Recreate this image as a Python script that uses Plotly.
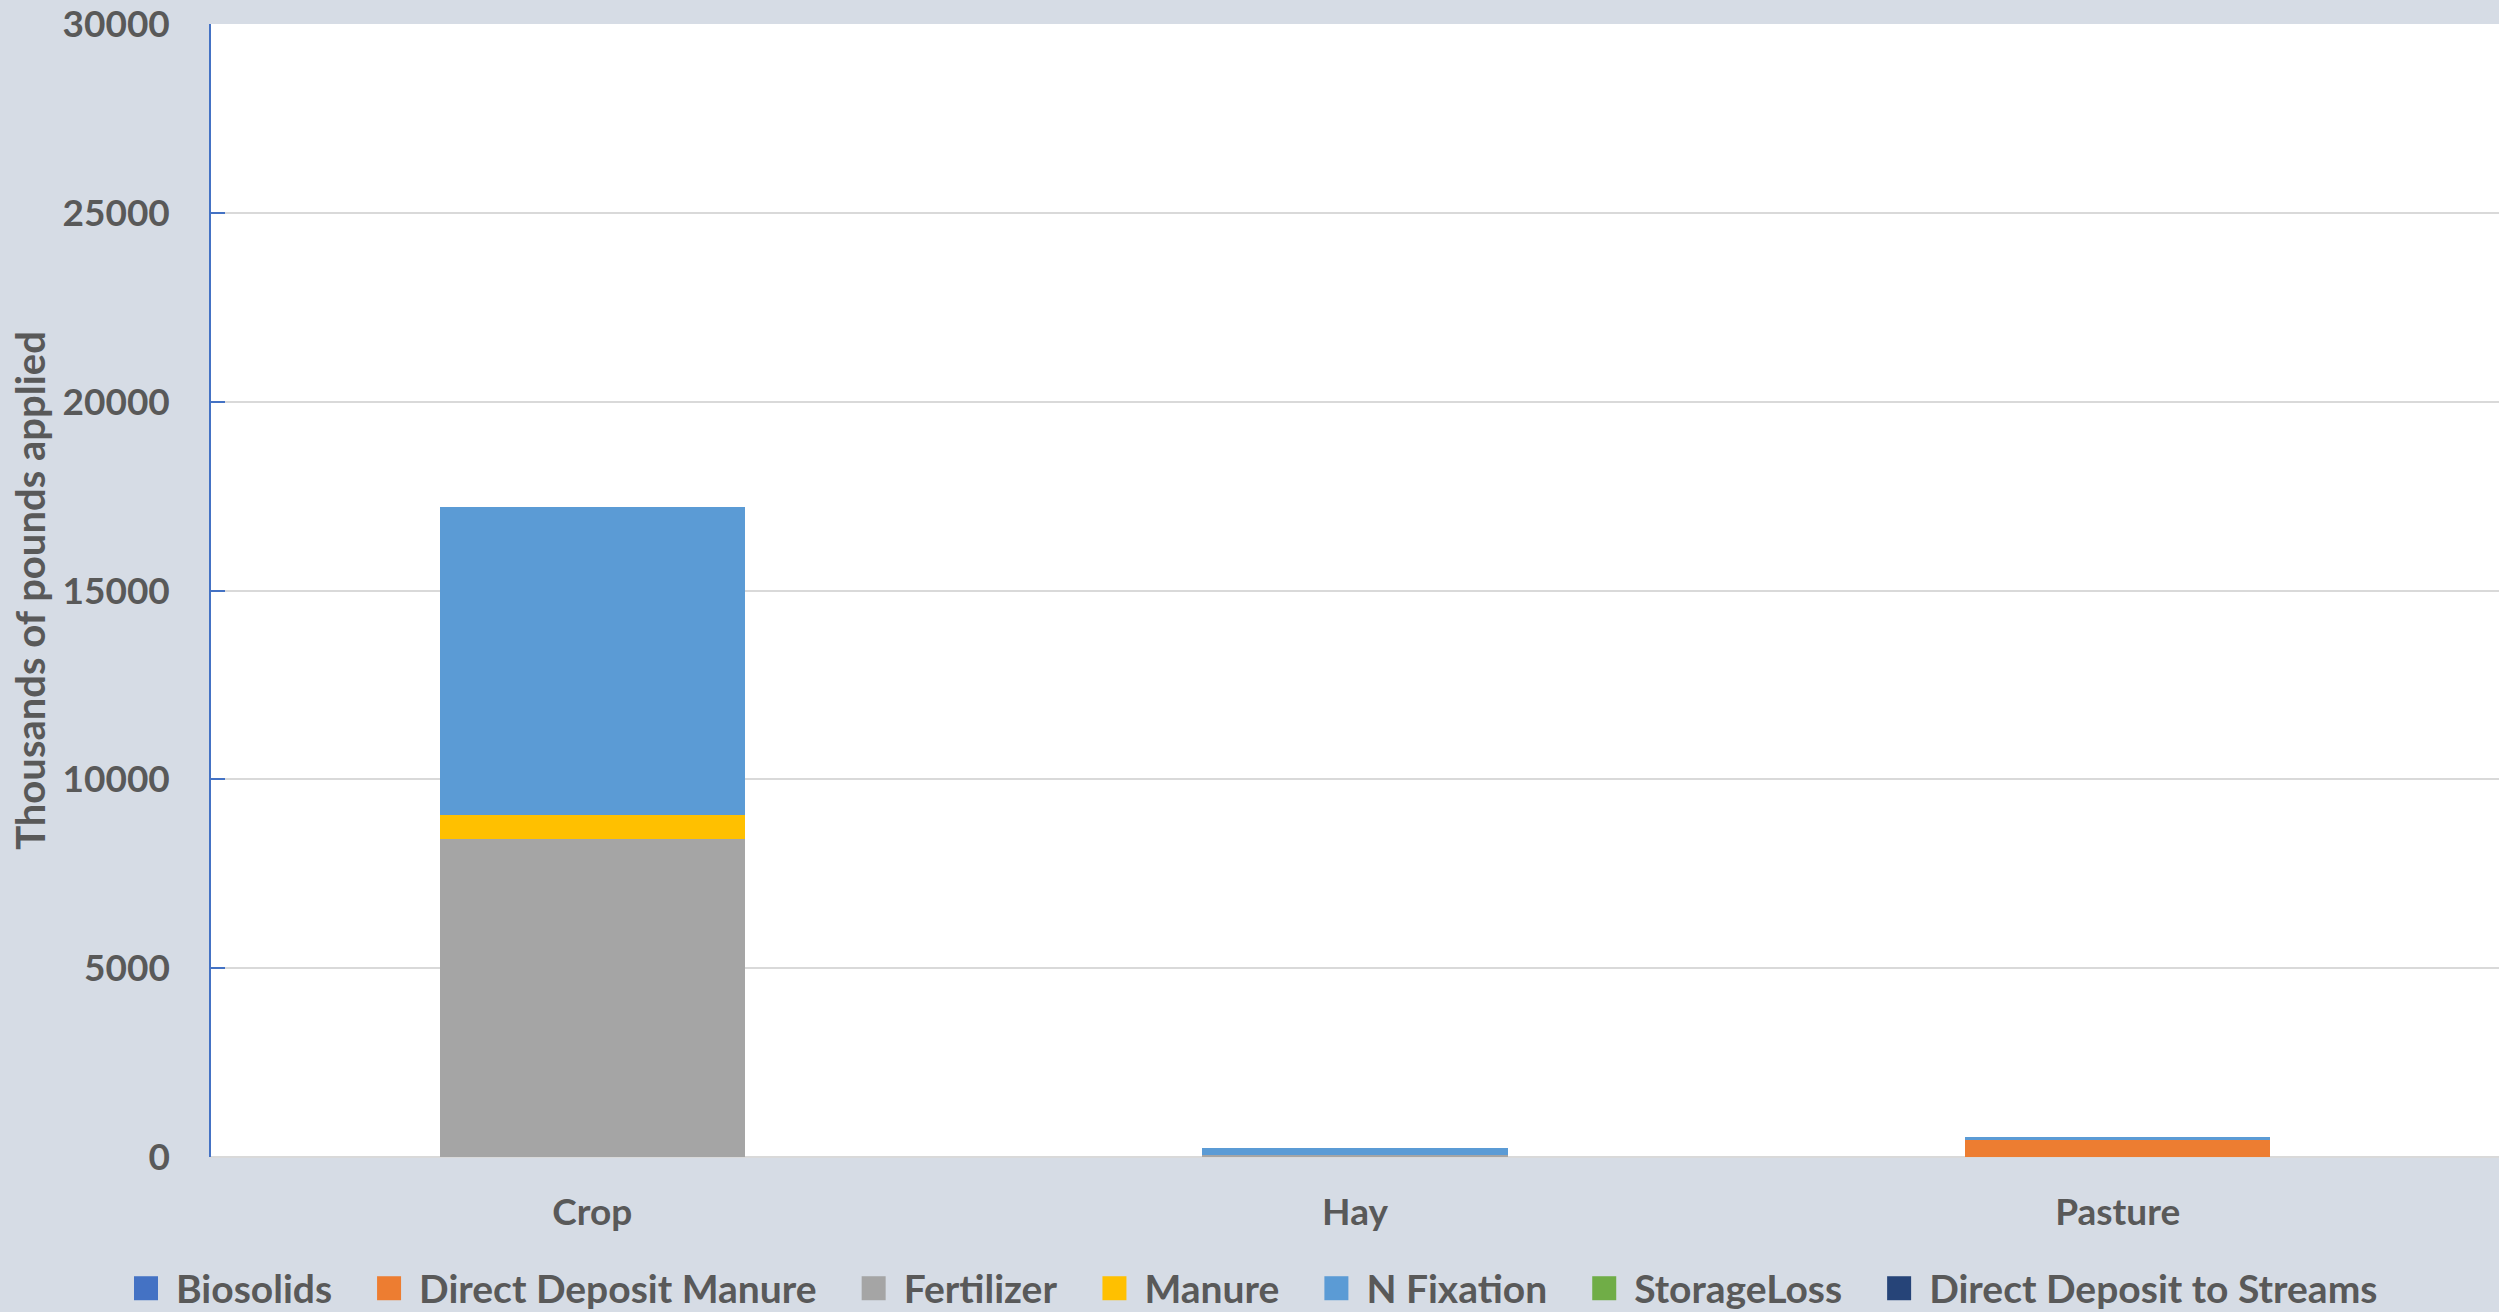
import plotly.graph_objects as go

# Land uses on the x axis
categories = ["Crop", "Hay", "Pasture"]

# Nitrogen sources, thousands of pounds applied per land use
biosolids = [0, 0, 0]
direct_deposit_manure = [0, 0, 460]
fertilizer = [8420, 50, 0]
manure = [630, 0, 0]
n_fixation = [8160, 180, 70]
storage_loss = [0, 0, 0]
direct_deposit_streams = [0, 0, 0]

y_ticks = [0, 5000, 10000, 15000, 20000, 25000, 30000]

series = [
    ("Biosolids", biosolids, "#4472C4"),
    ("Direct Deposit Manure", direct_deposit_manure, "#ED7D31"),
    ("Fertilizer", fertilizer, "#A5A5A5"),
    ("Manure", manure, "#FFC000"),
    ("N Fixation", n_fixation, "#5B9BD5"),
    ("StorageLoss", storage_loss, "#70AD47"),
    ("Direct Deposit to Streams", direct_deposit_streams, "#264478"),
]

FAMILY = "Lato, 'Open Sans', sans-serif"
FONT = dict(family=FAMILY, size=37, color="#595959", weight="bold")
LEGEND_FONT = dict(family=FAMILY, size=39, color="#595959", weight="bold")
TITLE_FONT = dict(family=FAMILY, size=40, color="#595959", weight="bold")
BG = "#D6DCE5"

fig = go.Figure()
for name, values, color in series:
    fig.add_trace(go.Bar(
        name=name,
        x=categories,
        y=values,
        marker=dict(color=color, line=dict(width=0)),
    ))

fig.update_layout(
    width=2499,
    height=1312,
    barmode="stack",
    bargap=0.6,
    paper_bgcolor=BG,
    plot_bgcolor="white",
    font=FONT,
    margin=dict(l=211, r=0, t=24, b=155, autoexpand=False),
    showlegend=True,
    legend=dict(
        orientation="h",
        xref="container", yref="container",
        x=0.5, xanchor="center",
        y=0.018, yanchor="middle",
        traceorder="normal",
        itemwidth=50,
        font=LEGEND_FONT,
        bgcolor="rgba(0,0,0,0)",
    ),
)

fig.update_xaxes(
    showgrid=False,
    showline=False,
    ticks="",
    ticklabelstandoff=30,
    tickfont=FONT,
)

fig.update_yaxes(
    range=[0, 30004],
    tickvals=y_ticks,
    ticktext=[str(v) for v in y_ticks],
    showgrid=True,
    gridcolor="#D9D9D9",
    gridwidth=1.5,
    zeroline=True,
    zerolinecolor="#D9D9D9",
    zerolinewidth=1.5,
    showline=True,
    linecolor="#4472C4",
    linewidth=1.5,
    ticks="inside",
    ticklen=14,
    tickcolor="#4472C4",
    tickwidth=1.5,
    ticklabelstandoff=32,
    tickfont=FONT,
    title=dict(text="Thousands of pounds applied", font=TITLE_FONT, standoff=5),
)

# Legend styling: larger square swatches and wider spacing between entries
post = """
var gd = document.getElementById('{plot_id}');
gd.querySelectorAll('.legendpoints path').forEach(function (p) {
  p.setAttribute('d', 'M12,12H-12V-12H12Z');
});
var box = gd.querySelector('.legend .scrollbox');
if (box) { box.removeAttribute('clip-path'); }
var items = gd.querySelectorAll('.legend .traces');
var extra = 22, n = items.length;
items.forEach(function (g, i) {
  var m = /translate\\(\\s*([-\\d.eE]+)[ ,]+([-\\d.eE]+)\\s*\\)/.exec(g.getAttribute('transform') || '');
  if (m) {
    var x = parseFloat(m[1]) + (i - (n - 1) / 2) * extra;
    g.setAttribute('transform', 'translate(' + x + ',' + m[2] + ')');
  }
});
"""

fig.write_html("out.html", post_script=post)
